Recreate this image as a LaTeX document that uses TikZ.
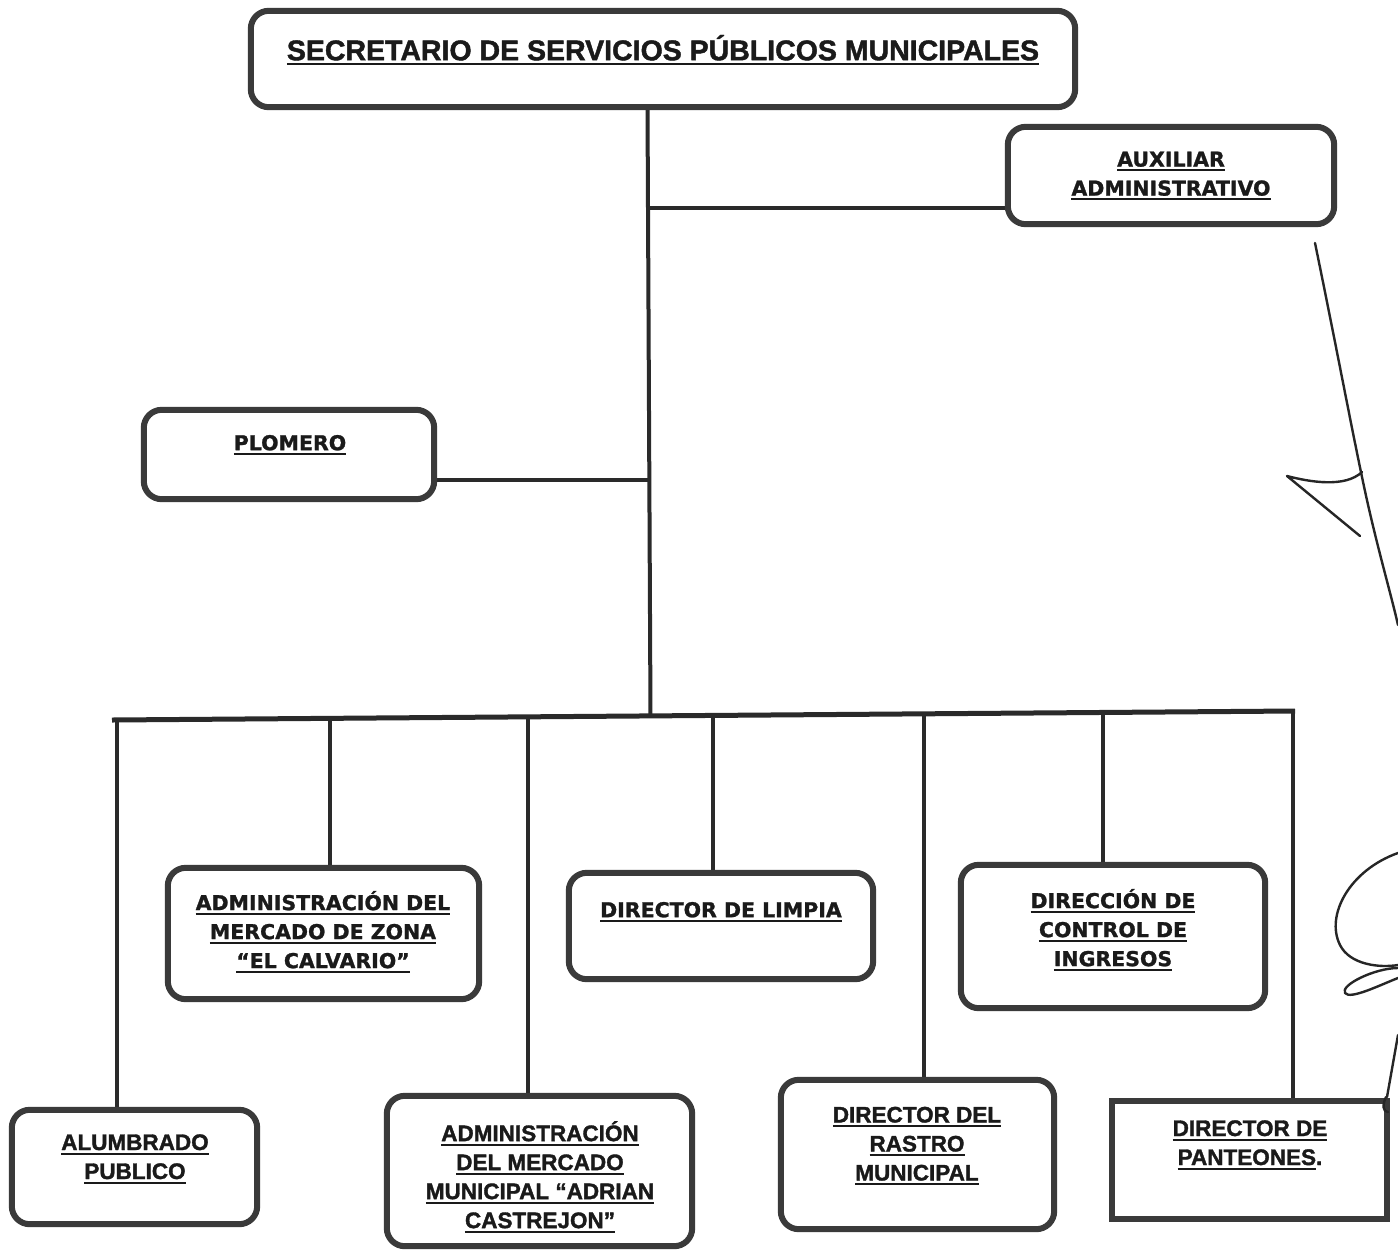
\documentclass[tikz,border=0pt]{standalone}
\usepackage{fontspec}
\setmainfont{Liberation Sans}[BoldFeatures={FakeBold=1.5}]
\newfontfamily\widefont{DejaVu Sans}[BoldFeatures={FakeBold=1.2}]
\usetikzlibrary{calc}
\newcommand{\myul}[1]{\vtop{\hbox{#1}\kern2.5pt\hrule height 2pt}}
\definecolor{boxc}{HTML}{3A3A3A}
\definecolor{linec}{HTML}{2A2A2A}
\definecolor{txtc}{HTML}{1A1A1A}
\tikzset{
  orgbox/.style={draw=boxc, line width=6pt, rounded corners=18pt, fill=white, inner sep=0pt},
  sqbox/.style={draw=boxc, line width=6pt, fill=white, inner sep=0pt},
  conn/.style={draw=linec, line width=4pt},
  sig/.style={draw=black!85, line width=2.4pt, line cap=round, line join=round},
  widetxt/.style={font=\widefont\bfseries\fontsize{20.5}{29}\selectfont, align=center, inner sep=0pt, text=txtc},
  ariatxt/.style={font=\bfseries\fontsize{22.5}{29}\selectfont, align=center, inner sep=0pt, text=txtc},
  titletxt/.style={font=\bfseries\fontsize{28.5}{34}\selectfont, align=center, inner sep=0pt, text=txtc}
}
\begin{document}
\begin{tikzpicture}[x=1pt,y=-1pt]
\useasboundingbox (0,0) rectangle (1398,1251);
\fill[white] (0,0) rectangle (1398,1251);

% junction coordinates
\coordinate (j1) at (647.5,208);
\coordinate (j2) at (648.5,480);
\coordinate (j3) at (650.5,717);
\coordinate (busL) at (112,720);
\coordinate (busR) at (1295,711);
\coordinate (d1) at (117,720);
\coordinate (d2) at (330,718.3);
\coordinate (d3) at (528,716.8);
\coordinate (d4) at (713,715.4);
\coordinate (d5) at (924,713.8);
\coordinate (d6) at (1103,712.5);
\coordinate (d7) at (1293,711);

% box placement (invisible, for anchors)
\node[inner sep=0pt, minimum width=824pt, minimum height=96pt] (title) at (663,59) {};
\node[inner sep=0pt, minimum width=326pt, minimum height=97pt] (aux) at (1171,175.5) {};
\node[inner sep=0pt, minimum width=290pt, minimum height=89pt] (plomero) at (289,454.5) {};
\node[inner sep=0pt, minimum width=311pt, minimum height=131pt] (calvario) at (323.5,933.5) {};
\node[inner sep=0pt, minimum width=304pt, minimum height=106pt] (limpia) at (721,926) {};
\node[inner sep=0pt, minimum width=304pt, minimum height=143pt] (ingresos) at (1113,936.5) {};
\node[inner sep=0pt, minimum width=245pt, minimum height=114pt] (alumbrado) at (134.5,1167) {};
\node[inner sep=0pt, minimum width=305pt, minimum height=150pt] (adrian) at (539.5,1171) {};
\node[inner sep=0pt, minimum width=273pt, minimum height=149pt] (rastro) at (917.5,1154.5) {};
\node[inner sep=0pt, minimum width=275pt, minimum height=118pt] (panteones) at (1249.5,1160) {};

% connectors
\draw[conn] (title.south -| j1) -- (j3);
\draw[conn] (j1) -- (aux.west |- j1);
\draw[conn] (plomero.east |- j2) -- (j2);
\draw[conn, line width=5pt] (busL) -- (busR);
\draw[conn] (d1) -- (alumbrado.north -| d1);
\draw[conn] (d2) -- (calvario.north -| d2);
\draw[conn] (d3) -- (adrian.north -| d3);
\draw[conn] (d4) -- (limpia.north -| d4);
\draw[conn] (d5) -- (rastro.north -| d5);
\draw[conn] (d6) -- (ingresos.north -| d6);
\draw[conn] (d7) -- (panteones.north -| d7);

% box outlines on top of connector ends
\draw[orgbox] (title.south west) rectangle (title.north east);
\draw[orgbox] (aux.south west) rectangle (aux.north east);
\draw[orgbox] (plomero.south west) rectangle (plomero.north east);
\draw[orgbox] (calvario.south west) rectangle (calvario.north east);
\draw[orgbox] (limpia.south west) rectangle (limpia.north east);
\draw[orgbox] (ingresos.south west) rectangle (ingresos.north east);
\draw[orgbox] (alumbrado.south west) rectangle (alumbrado.north east);
\draw[orgbox] (adrian.south west) rectangle (adrian.north east);
\draw[orgbox] (rastro.south west) rectangle (rastro.north east);
\draw[sqbox] (panteones.south west) rectangle (panteones.north east);

% texts
\node[titletxt] (ttitle) at (663,50) {\myul{SECRETARIO DE SERVICIOS PÚBLICOS MUNICIPALES}};
\node[widetxt] (taux) at (1171,176) {\myul{AUXILIAR}\\\myul{ADMINISTRATIVO}};
\node[widetxt] (tplomero) at (290,445) {\myul{PLOMERO}};
\node[widetxt] (tcalvario) at (323,932) {\myul{ADMINISTRACIÓN DEL}\\\myul{MERCADO DE ZONA}\\\myul{“EL CALVARIO”}};
\node[widetxt] (tlimpia) at (721,912) {\myul{DIRECTOR DE LIMPIA}};
\node[widetxt] (tingresos) at (1113,930) {\myul{DIRECCIÓN DE}\\\myul{CONTROL DE}\\\myul{INGRESOS}};
\node[ariatxt] (talumbrado) at (135,1159) {\myul{ALUMBRADO}\\\myul{PUBLICO}};
\node[ariatxt] (tadrian) at (540,1177) {\myul{ADMINISTRACIÓN}\\\myul{DEL MERCADO}\\\myul{MUNICIPAL “ADRIAN}\\\myul{CASTREJON”}};
\node[ariatxt] (trastro) at (917,1146) {\myul{DIRECTOR DEL}\\\myul{RASTRO}\\\myul{MUNICIPAL}};
\node[ariatxt] (tpanteones) at (1250,1145) {\myul{DIRECTOR DE}\\\myul{PANTEONES}.};

% handwritten signature strokes
\draw[sig] (1315,243) .. controls (1335,340) and (1350,420) .. (1362,477) .. controls (1375,540) and (1390,590) .. (1398,625);
\draw[sig] (1360,536) -- (1287,476) .. controls (1310,482) and (1345,488) .. (1362,472);
\draw[sig] (1398,853) .. controls (1350,870) and (1325,915) .. (1340,945) .. controls (1350,965) and (1380,968) .. (1398,965);
\draw[sig] (1398,968) .. controls (1375,968) and (1340,985) .. (1345,993) .. controls (1350,1000) and (1380,985) .. (1398,978);
\draw[sig] (1398,1035) -- (1387,1097);
\draw[sig] (1386,1097) .. controls (1382,1105) and (1383,1112) .. (1388,1112);
\end{tikzpicture}
\end{document}
